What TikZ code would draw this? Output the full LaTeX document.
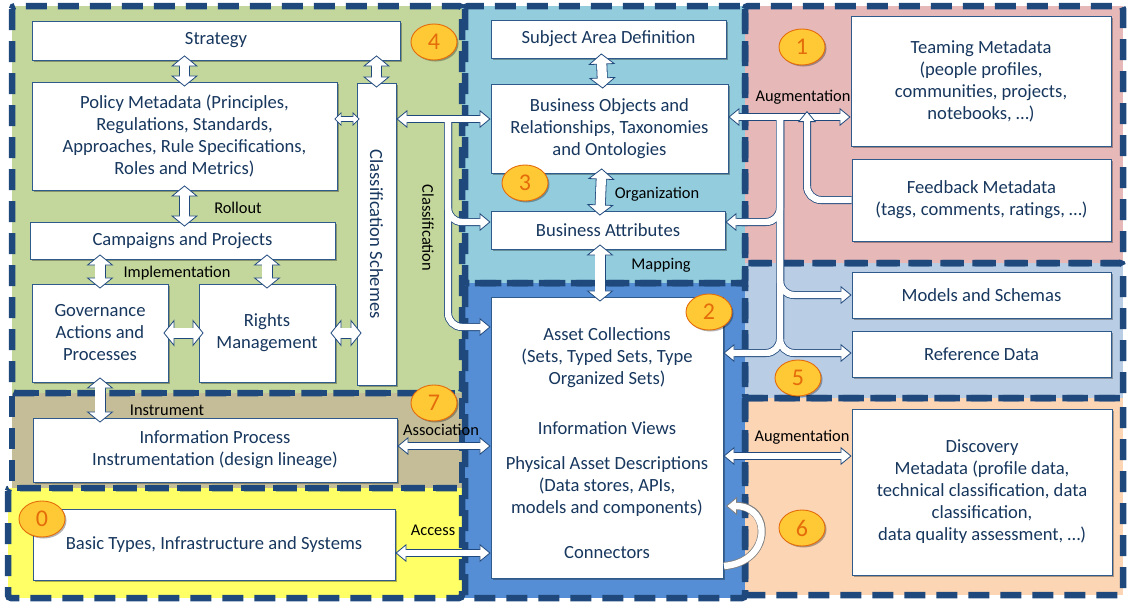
\documentclass[tikz,border=0pt]{standalone}
\usepackage{fontspec}
\setmainfont{Carlito}
\usetikzlibrary{arrows.meta,shapes.geometric,shadows}
\definecolor{navy}{HTML}{1F497D}
\definecolor{boxline}{HTML}{2E5A8C}
\definecolor{boxtext}{HTML}{17375E}
\definecolor{greenzone}{HTML}{C3D69B}
\definecolor{tanzone}{HTML}{C4BD97}
\definecolor{yellowzone}{HTML}{FFFF66}
\definecolor{cyanzone}{HTML}{93CDDD}
\definecolor{bluezone}{HTML}{558ED5}
\definecolor{pinkzone}{HTML}{E6B9B8}
\definecolor{steelzone}{HTML}{B9CDE5}
\definecolor{peachzone}{HTML}{FCD5B5}
\definecolor{badgefill}{HTML}{FFC835}
\definecolor{badgeline}{HTML}{E46C0A}
\newcommand\cardfont{\fontsize{18.6}{22}\selectfont}
\newcommand\linkfont{\fontsize{16.4}{18}\selectfont}
\newcommand\badgefont{\fontsize{24}{26}\selectfont}
\tikzset{
  outerpass/.style={color=navy, line join=round,
    fat/.style={line width=11pt, shorten <=-5pt, shorten >=-5pt, >={Triangle[width=27pt,length=11pt,line width=.8pt,fill=white]}},
    thin/.style={line width=8pt, rounded corners=14pt, >={Triangle[width=18pt,length=11pt,line width=.8pt,fill=white]}},
    slim/.style={line width=6pt, shorten <=-3pt, shorten >=-3pt, >={Triangle[width=14pt,length=7pt,line width=.7pt,fill=white]}},
    both/.style={<->}, fwd/.style={->}, loopcol/.style={color=gray}},
  innerpass/.style={color=white, loopcol/.style={},
    fat/.style={line width=9.4pt, both/.style={shorten <=4.6pt, shorten >=4.6pt}, fwd/.style={shorten >=4.6pt}},
    thin/.style={line width=6.4pt, rounded corners=14pt, both/.style={shorten <=9.6pt, shorten >=9.6pt}, fwd/.style={shorten >=9.6pt}},
    slim/.style={line width=4.6pt, both/.style={shorten <=2.8pt, shorten >=2.8pt}, fwd/.style={shorten >=2.8pt}}}
}
% all pipes, drawn twice: navy outline pass, then white core pass
\def\pipework{%
  \draw[fat,both] (policy.north) -- (policy.north |- strategy.south);
  \draw[fat,both] (cs.north) -- (cs.north |- strategy.south);
  \draw[fat,both] (policy.south) -- (policy.south |- campaigns.north);
  \draw[fat,both] (governance.north) -- (governance.north |- campaigns.south);
  \draw[fat,both] (rights.north) -- (rights.north |- campaigns.south);
  \draw[fat,both] (governance.east) -- (rights.west);
  \draw[fat,both] (rights.east) -- (rights.east -| cs.west);
  \draw[fat,both] (governance.south) -- (governance.south |- infoproc.north);
  \draw[slim,both] (policy.east |- lbus) -- (cs.west |- lbus);
  \draw[fat,both] ([xshift=-7pt]subject.south) -- ([xshift=-7pt]busobj.north);
  \draw[fat,both] ([xshift=-8pt]busobj.south) -- ([xshift=-8pt]busattr.north);
  \draw[fat,both] ([xshift=-8pt]busattr.south) -- ([xshift=-8pt]busattr.south |- asset.north);
  \draw[thin,fwd] (lbus) |- (busattr.west |- attrrow);
  \draw[thin,fwd] (lbus) |- (asset.west |- collrow);
  \draw[thin,both] (cs.east |- lbus) -- (busobj.west |- lbus);
  \draw[thin,fwd] (rbus) |- (busattr.east |- attrrow);
  \draw[thin,fwd] (rbus) |- (models.west);
  \draw[thin,fwd] (rbus) |- (refdata.west |- refrow);
  \draw[thin,fwd] (rbus) |- (asset.east |- refrow);
  \draw[thin,both] (busobj.east |- rbus) -- (teaming.west |- rbus);
  \draw[thin,both] (infoproc.east |- augrow) -- (asset.west |- augrow);
  \draw[thin,both] (asset.east |- discrow) -- (discovery.west |- discrow);
  \draw[thin,both] (basic.east |- accrow) -- (asset.west |- accrow);
  \draw[thin,fwd,loopcol] (loopa) .. controls (772,562) and (772,506) .. (loopb);
}
\def\feedpipe{\draw[thin,fwd] (feedback.west) -| (fbtop);}

\begin{document}
\begin{tikzpicture}[x=1pt,y=-1pt,
  region/.style={draw=navy, line width=6.5pt, dash pattern=on 21pt off 11pt, rounded corners=3pt},
  card/.style={draw=boxline, fill=white, line width=0.9pt, text=boxtext, align=center, font=\cardfont,
    inner sep=2pt, drop shadow={shadow xshift=2pt, shadow yshift=-2pt, opacity=.3, fill=black}},
  words/.style={text=boxtext, align=center, font=\cardfont, inner sep=1pt},
  link/.style={font=\linkfont, text=black, inner sep=1pt},
  badge/.style={ellipse, draw=badgeline, line width=.9pt, fill=badgefill, text=badgeline, font=\badgefont,
    minimum width=46pt, minimum height=36pt, inner sep=0pt,
    drop shadow={shadow xshift=1.5pt, shadow yshift=-1.5pt, opacity=.3, fill=black}}]
\useasboundingbox (0,0) rectangle (1137,613);

\fill[greenzone] (12,6) rectangle (462,393);
\fill[tanzone] (12,393) rectangle (462,488);
\fill[yellowzone] (8,488) rectangle (462,598);
\fill[cyanzone] (462,6) rectangle (745,283);
\fill[bluezone] (462,283) rectangle (745,598);
\fill[pinkzone] (745,6) rectangle (1123,263);
\fill[steelzone] (745,263) rectangle (1123,398);
\fill[peachzone] (745,398) rectangle (1123,595);
\draw[region] (12,6) rectangle (462,393);
\draw[region] (12,393) rectangle (462,488);
\draw[region] (8,488) rectangle (462,598);
\draw[region] (465,6) rectangle (745,283);
\draw[region] (465,283) rectangle (745,598);
\draw[region] (745,6) rectangle (1123,263);
\draw[region] (745,263) rectangle (1123,398);
\draw[region] (745,398) rectangle (1123,595);

\node[card, minimum width=368pt, minimum height=39pt] (strategy) at (216,40.5) {Strategy};
\node[card, minimum width=305pt, minimum height=108pt] (policy) at (184.5,136) {Policy Metadata (Principles,\\Regulations, Standards,\\Approaches, Rule Specifications,\\Roles and Metrics)};
\node[card, minimum width=305pt, minimum height=37pt] (campaigns) at (182.5,240.5) {Campaigns and Projects};
\node[card, minimum width=136pt, minimum height=98pt] (governance) at (100,333) {Governance\\Actions and\\Processes};
\node[card, minimum width=136pt, minimum height=98pt] (rights) at (267,333) {Rights\\Management};
\node[card, minimum width=39pt, minimum height=302pt] (cs) at (376.5,234) {\rotatebox{-90}{Classification Schemes}};
\node[card, minimum width=364pt, minimum height=64pt] (infoproc) at (215,450) {Information Process\\Instrumentation (design lineage)};
\node[card, minimum width=362pt, minimum height=71pt] (basic) at (214,544.5) {Basic Types, Infrastructure and Systems};
\node[card, minimum width=235pt, minimum height=38pt] (subject) at (608.5,39) {Subject Area Definition};
\node[card, minimum width=237pt, minimum height=89pt] (busobj) at (609.5,128.5) {Business Objects and\\Relationships, Taxonomies\\and Ontologies};
\node[card, minimum width=234pt, minimum height=38pt] (busattr) at (608,230) {Business Attributes};
\node[card, minimum width=232pt, minimum height=281pt] (asset) at (607,437.5) {};
\node[words] (collections) at (607,358) {Asset Collections\\(Sets, Typed Sets, Type\\Organized Sets)};
\node[words] (views) at (607,428) {Information Views};
\node[words] (physical) at (607,487) {Physical Asset Descriptions\\(Data stores, APIs,\\models and components)};
\node[words] (connectors) at (607,553) {Connectors};
\node[card, minimum width=260pt, minimum height=130pt] (teaming) at (981,81) {Teaming Metadata\\(people profiles,\\communities, projects,\\notebooks, \dots)};
\node[card, minimum width=259pt, minimum height=82pt] (feedback) at (981.5,200) {Feedback Metadata\\(tags, comments, ratings, \dots)};
\node[card, minimum width=259pt, minimum height=46pt] (models) at (981.5,295) {Models and Schemas};
\node[card, minimum width=259pt, minimum height=46pt] (refdata) at (981.5,354) {Reference Data};
\node[card, minimum width=260pt, minimum height=166pt] (discovery) at (982,492) {Discovery\\Metadata (profile data,\\technical classification, data\\classification,\\data quality assessment, \dots)};

\coordinate (lbus) at (448,119);
\coordinate (rbus) at (780,117);
\coordinate (fbtop) at (807,111);
\coordinate (attrrow) at (0,222);
\coordinate (collrow) at (0,327);
\coordinate (refrow) at (0,353);
\coordinate (augrow) at (0,446);
\coordinate (discrow) at (0,456);
\coordinate (accrow) at (0,553);
\coordinate (loopa) at (724,566);
\coordinate (loopb) at (726,506);

\begin{scope}[outerpass] \pipework \end{scope}
\begin{scope}[innerpass] \pipework \end{scope}
\begin{scope}[outerpass] \feedpipe \end{scope}
\begin{scope}[innerpass] \feedpipe \end{scope}

\node[link] (rollout) at (238,208) {Rollout};
\node[link] (implementation) at (177,273) {Implementation};
\node[link, rotate=-90] (classification) at (428,228) {Classification};
\node[link] (organization) at (657,194) {Organization};
\node[link] (mapping) at (661,265) {Mapping};
\node[link] (augtop) at (803,97) {Augmentation};
\node[link] (augbottom) at (802,437) {Augmentation};
\node[link] (instrument) at (167,410) {Instrument};
\node[link] (association) at (441,430) {Association};
\node[link] (access) at (433,530) {Access};

\node[badge] (b0) at (42,519) {0};
\node[badge] (b1) at (802,47) {1};
\node[badge] (b2) at (709,312) {2};
\node[badge] (b3) at (525,183) {3};
\node[badge] (b4) at (434,42) {4};
\node[badge] (b5) at (798,378) {5};
\node[badge] (b6) at (802,528) {6};
\node[badge] (b7) at (434,403) {7};
\end{tikzpicture}
\end{document}
